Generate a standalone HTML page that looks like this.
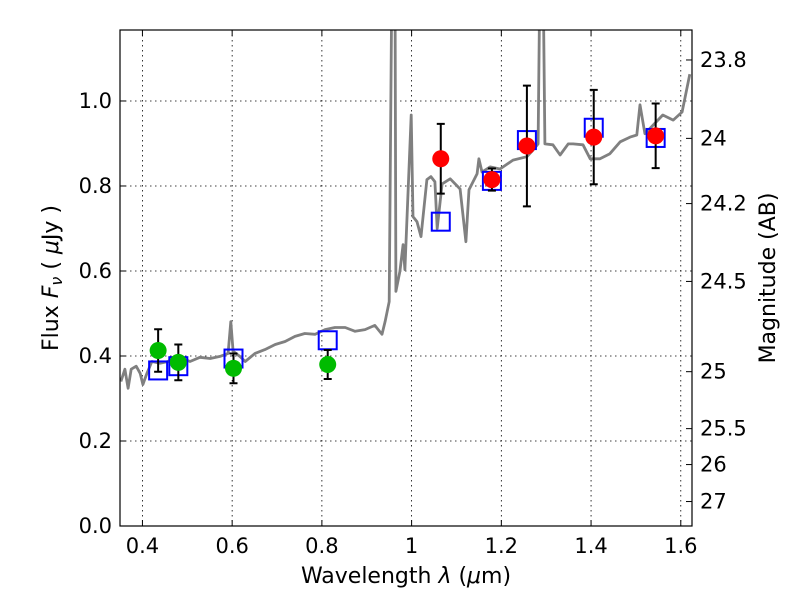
<!DOCTYPE html>
<html><head><meta charset="utf-8"><style>
body{margin:0;background:#fff;}
svg text{font-family:"DejaVu Sans","Liberation Sans",sans-serif;}
</style></head><body>
<svg id="chart" width="800" height="600" xmlns="http://www.w3.org/2000/svg">
<rect width="800" height="600" fill="#fff"/>
<g id="grid"></g>
<g id="plot"></g>
<g id="axes"></g>
<text x="406" y="583" font-size="22" text-anchor="middle">Wavelength  <tspan font-style="italic">λ</tspan> (<tspan font-style="italic">μ</tspan>m)</text>
<text transform="translate(58,278) rotate(-90)" font-size="22" text-anchor="middle">Flux  <tspan font-style="italic">F<tspan font-size="16" dy="4">ν</tspan></tspan><tspan dy="-4">  ( </tspan><tspan font-style="italic">μ</tspan>Jy )</text>
<text transform="translate(775,278) rotate(-90)" font-size="22" text-anchor="middle">Magnitude (AB)</text>
</svg>
<script>
const specW=[.352,.361,.368,.375,.386,.395,.401,.410,.421,.439,.457,.473,.484,.506,.528,.551,.573,.591,.597,.602,.617,.629,.651,.673,.696,.718,.740,.762,.785,.807,.829,.852,.874,.896,.918,.934,.941,.950,.956,.963,.965,.974,.981,.985,.999,1.003,1.012,1.021,1.034,1.043,1.052,1.057,1.068,1.086,1.108,1.121,1.128,1.146,1.150,1.157,1.175,1.197,1.226,1.257,1.271,1.282,1.286,1.293,1.297,1.315,1.331,1.349,1.360,1.382,1.398,1.420,1.442,1.465,1.487,1.502,1.509,1.520,1.560,1.583,1.603,1.620];
const specF=[.340,.369,.324,.369,.376,.359,.333,.359,.387,.383,.387,.399,.397,.387,.397,.394,.399,.406,.481,.411,.399,.387,.406,.415,.427,.434,.446,.453,.451,.462,.467,.467,.458,.462,.472,.451,.481,.528,1.3,1.3,.552,.599,.662,.603,.967,.728,.716,.681,.815,.822,.810,.700,.805,.817,.793,.669,.791,.829,.864,.833,.845,.840,.861,.869,.885,.899,1.3,1.3,.899,.897,.873,.899,.899,.897,.864,.864,.876,.904,.915,.920,.991,.923,.967,.955,.974,1.063];
const greenW=[.435,.48,.603,.813];
const greenF=[.413,.385,.371,.380];
const greenE=[.05,.042,.035,.034];
const redW=[1.065,1.179,1.257,1.406,1.544];
const redF=[.864,.815,.894,.915,.918];
const redE=[.082,.026,.142,.111,.076];
const blueW=[.435,.48,.603,.813,1.065,1.179,1.257,1.406,1.544];
const blueF=[.366,.376,.394,.437,.716,.812,.908,.937,.913];
const xTicks=[0.4,0.6,0.8,1.0,1.2,1.4,1.6];
const xTickLabels=["0.4","0.6","0.8","1","1.2","1.4","1.6"];
const yTicks=[0,0.2,0.4,0.6,0.8,1.0];
const yTickLabels=["0.0","0.2","0.4","0.6","0.8","1.0"];
const magTicks=[23.8,24,24.2,24.5,25,25.5,26,27];
const magLabels=["23.8","24","24.2","24.5","25","25.5","26","27"];
const L=120,R=692,T=30,B=526,xmin=0.35,xmax=1.625,ymin=0,ymax=1.167;
const X=w=>L+(w-xmin)/(xmax-xmin)*(R-L);
const Y=f=>B-(f-ymin)/(ymax-ymin)*(B-T);
const NS="http://www.w3.org/2000/svg";
function mk(tag,attrs,parent){const e=document.createElementNS(NS,tag);for(const k in attrs)e.setAttribute(k,attrs[k]);parent.appendChild(e);return e;}
const grid=document.getElementById('grid'),plot=document.getElementById('plot'),axes=document.getElementById('axes');
xTicks.forEach((t,i)=>{
 const l=mk('line',{x1:X(t),x2:X(t),y1:T,y2:B,stroke:'#000','stroke-width':0.8,'stroke-dasharray':'1.5,3.5'},grid);
 
 
 mk('line',{x1:X(t),x2:X(t),y1:B,y2:B-6,stroke:'#000'},axes);
 mk('line',{x1:X(t),x2:X(t),y1:T,y2:T+6,stroke:'#000'},axes);
 const tx=mk('text',{x:X(t),y:B+27,'font-size':21,'text-anchor':'middle'},axes);tx.textContent=xTickLabels[i];
 
 
});
yTicks.forEach((t,i)=>{
 const l=mk('line',{x1:L,x2:R,y1:Y(t),y2:Y(t),stroke:'#000','stroke-width':0.8,'stroke-dasharray':'1.5,3.5'},grid);
 
 
 mk('line',{x1:L,x2:L+6,y1:Y(t),y2:Y(t),stroke:'#000'},axes);
 const tx=mk('text',{x:L-8,y:Y(t)+7,'font-size':21,'text-anchor':'end'},axes);tx.textContent=yTickLabels[i];
 
 
});
magTicks.forEach((m,i)=>{
 const y=Y(Math.pow(10,(23.9-m)/2.5));
 mk('line',{x1:R,x2:R-6,y1:y,y2:y,stroke:'#000'},axes);
 const tx=mk('text',{x:R+8,y:y+7,'font-size':21},axes);tx.textContent=magLabels[i];
 
 
});
const clip=mk('clipPath',{id:'cp'},plot);mk('rect',{x:L,y:T,width:R-L,height:B-T},clip);
const g=mk('g',{'clip-path':'url(#cp)'},plot);
const sp=mk('path',{d:specW.map((w,i)=>(i?'L':'M')+X(w).toFixed(1)+','+Y(specF[i]).toFixed(1)).join(''),fill:'none',stroke:'#808080','stroke-width':2.8,'stroke-linejoin':'round'},g);


blueW.forEach((w,i)=>{
 const r=mk('rect',{x:X(w)-9,y:Y(blueF[i])-9,width:18,height:18,fill:'none',stroke:'#0000ff','stroke-width':2},g);
 
 
});
function pts(W,F,E,col,name){W.forEach((w,i)=>{
 const x=X(w),y1=Y(F[i]+E[i]),y2=Y(F[i]-E[i]);
 mk('path',{d:`M${x},${y1}V${y2}M${x-4},${y1}h8M${x-4},${y2}h8`,stroke:'#000','stroke-width':2},g);
 const c=mk('circle',{cx:x,cy:Y(F[i]),r:8.5,fill:col},g);
 
 
});}
pts(greenW,greenF,greenE,'#00bb00','green-point');
pts(redW,redF,redE,'#ff0000','red-point');
mk('rect',{x:L,y:T,width:R-L,height:B-T,fill:'none',stroke:'#000','stroke-width':1.2},axes);
</script>
</body></html>
